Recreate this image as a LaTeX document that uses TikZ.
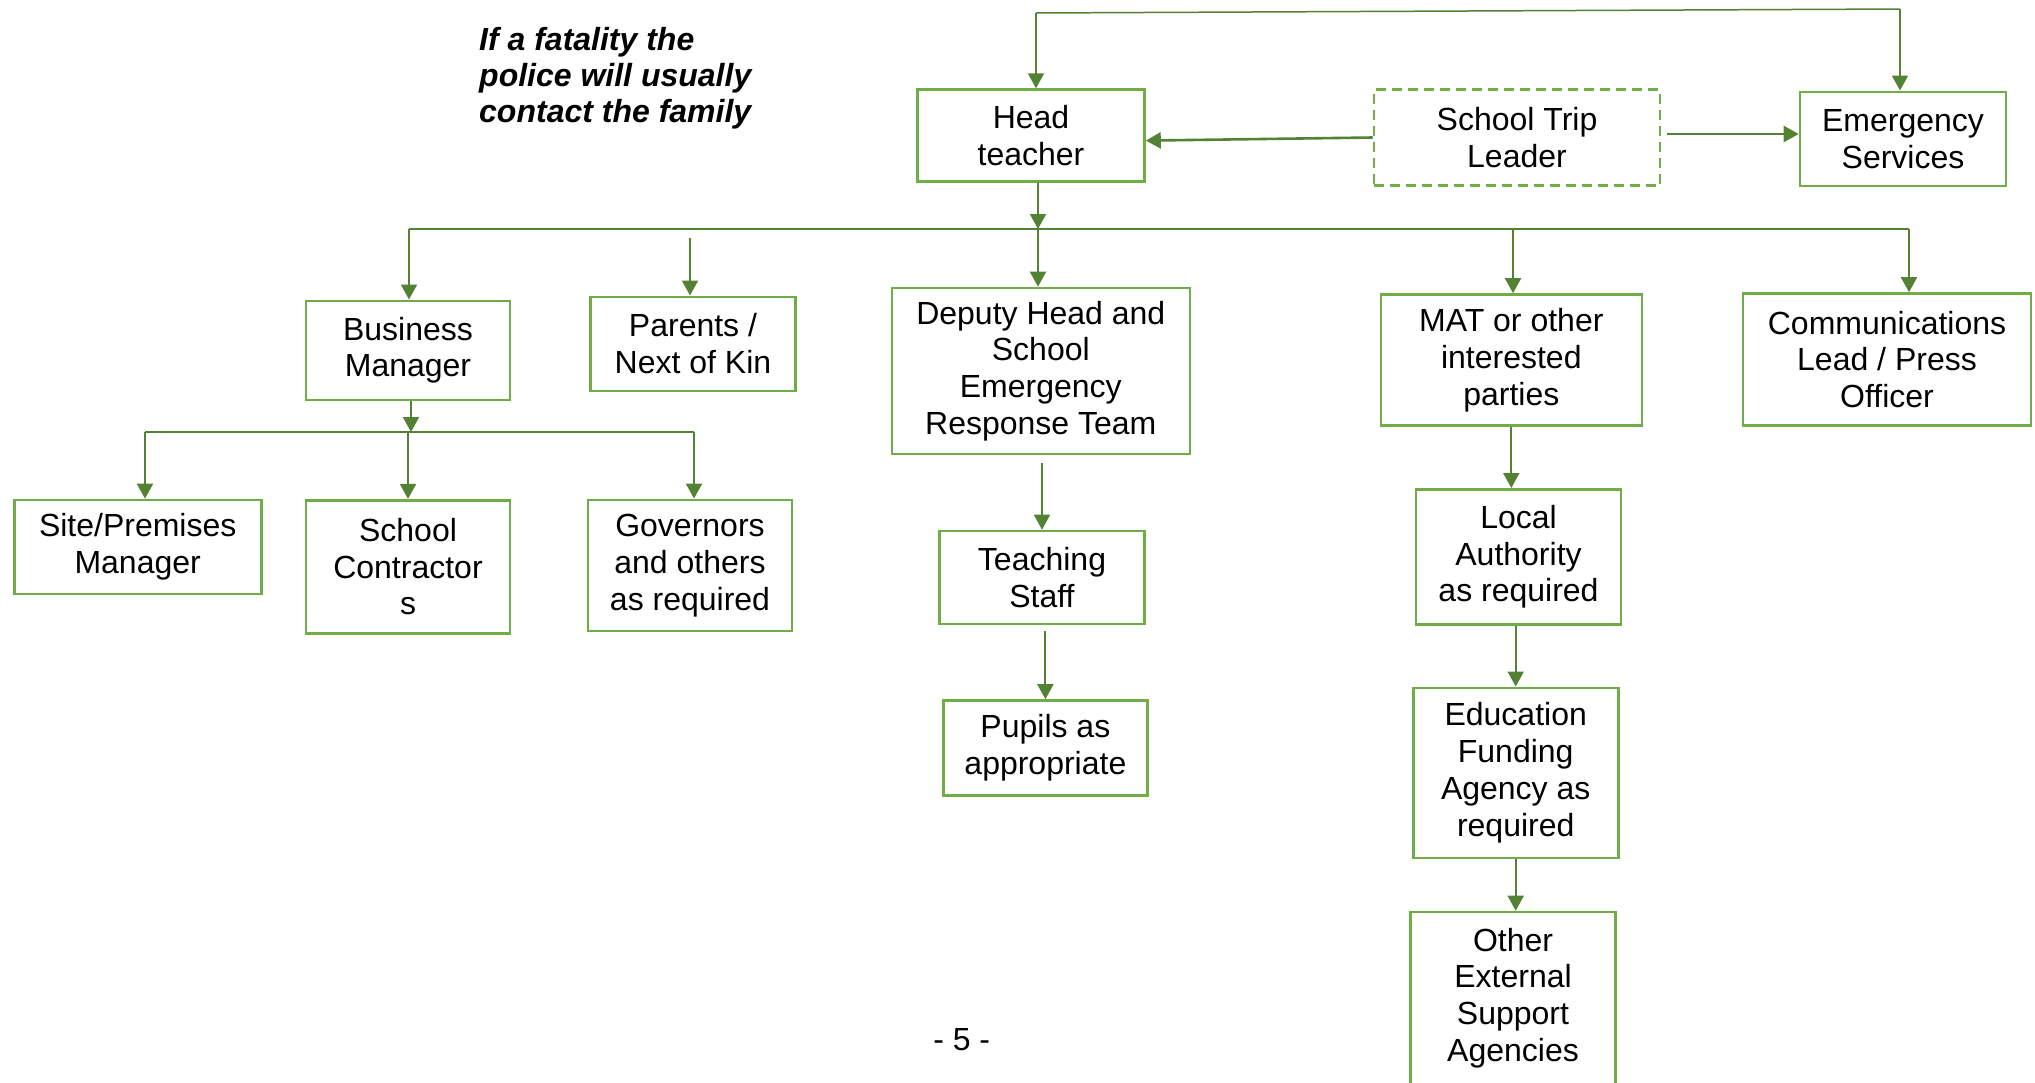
\documentclass[tikz,border=0pt]{standalone}
\usepackage{fontspec}
\setmainfont{Liberation Sans}
\usepackage{tikz, xcolor}
\usetikzlibrary{arrows.meta}

\definecolor{boxgreen}{HTML}{70AD47}
\definecolor{linegreen}{HTML}{548235}

\tikzset{
    box/.style={draw=boxgreen, line width=2.6pt, align=center, inner sep=0pt, font=\fontsize{32}{36.8}\selectfont},
    tripbox/.style={box, dash pattern=on 10pt off 6pt},
    link/.style={draw=linegreen, line width=2pt, -{Triangle[width=16pt, length=15pt]}},
    busline/.style={draw=linegreen, line width=1.5pt},
    note/.style={anchor=north west, align=left, inner sep=0pt, font=\fontsize{32}{35.7}\selectfont\bfseries\itshape},
}

\begin{document}
\begin{tikzpicture}[x=1pt, y=-1pt]
    \path [use as bounding box] (0, 0) rectangle (2035, 1082);
    \clip (0, 0) rectangle (2035, 1082);

    \node [note] (fatal) at (479, 27.5) {If a fatality the\\police will usually\\contact the family};

    \node [box, minimum width=227pt, minimum height=92pt] (head) at (1031, 135.6) {Head\\teacher};
    \node [tripbox, minimum width=286pt, minimum height=96pt] (trip) at (1517, 137.5) {School Trip\\Leader};
    \node [box, minimum width=206pt, minimum height=94pt] (emerg) at (1903, 138.8) {Emergency\\Services};

    \node [box, minimum width=204pt, minimum height=99pt] (bizman) at (408, 350.3) {Business\\Manager};
    \node [box, minimum width=205pt, minimum height=94pt] (parents) at (693, 343.8) {Parents /\\Next of Kin};
    \node [box, minimum width=298pt, minimum height=166pt] (deputy) at (1040.8, 371) {Deputy Head and\\School\\Emergency\\Response Team};
    \node [box, minimum width=261pt, minimum height=131pt] (mat) at (1511.3, 360) {MAT or other\\interested\\parties};
    \node [box, minimum width=288pt, minimum height=132pt] (comms) at (1887, 359.5) {Communications\\Lead / Press\\Officer};

    \node [box, minimum width=247pt, minimum height=94pt] (site) at (137.7, 547) {Site/Premises\\Manager};
    \node [box, minimum width=204pt, minimum height=133pt] (contractors) at (408, 566.7) {School\\Contractor\\s};
    \node [box, minimum width=204pt, minimum height=131pt] (governors) at (690, 565.4) {Governors\\and others\\as required};

    \node [box, minimum width=205pt, minimum height=93pt] (teaching) at (1042, 577.5) {Teaching\\Staff};
    \node [box, minimum width=204pt, minimum height=95pt] (pupils) at (1045.4, 748) {Pupils as\\appropriate};

    \node [box, minimum width=205pt, minimum height=135pt] (la) at (1518.5, 556.8) {Local\\Authority\\as required};
    \node [box, minimum width=205pt, minimum height=170pt] (efa) at (1515.7, 772.8) {Education\\Funding\\Agency as\\required};
    \node [box, minimum width=205pt, minimum height=172pt] (other) at (1513, 998) {Other\\External\\Support\\Agencies};

    \node [font=\fontsize{32}{36.8}\selectfont, inner sep=0pt] (pagenum) at (961.7, 1039.5) {- 5 -};

    \coordinate (topleft) at (1036, 13);
    \coordinate (topright) at (1900, 9);
    \draw [busline] (topleft) to (topright);
    \draw [link] (topleft) to (topleft |- head.north);
    \draw [link] (topright) to (topright |- emerg.north);

    \draw [link, line width=2.6pt] (trip.west) to ([yshift=-5pt]head.east);
    \draw [link, line width=2.4pt, shorten <=6pt] ([yshift=3.5pt]trip.east) to ([yshift=4.8pt]emerg.west);

    \coordinate (hub) at (1038, 229);
    \coordinate (busleft) at (409, 229);
    \coordinate (busright) at (1909, 229);
    \coordinate (kinstart) at (690, 238);
    \coordinate (matjoin) at (1513, 229);
    \draw [link] (hub |- head.south) to (hub);
    \draw [busline] (busleft) to (busright);
    \draw [link] (busleft) to (busleft |- bizman.north);
    \draw [link] (kinstart) to (kinstart |- parents.north);
    \draw [link] (hub) to (hub |- deputy.north);
    \draw [link] (matjoin) to (matjoin |- mat.north);
    \draw [link] (busright) to (busright |- comms.north);

    \coordinate (subhub) at (411, 432);
    \coordinate (subleft) at (145, 432);
    \coordinate (subright) at (694, 432);
    \draw [link] (subhub |- bizman.south) to (subhub);
    \draw [busline] (subleft) to (subright);
    \draw [link] (subleft) to (subleft |- site.north);
    \draw [link] (subhub -| contractors.north) to (contractors.north);
    \draw [link] (subright) to (subright |- governors.north);

    \draw [link, shorten <=8pt] (deputy.south -| teaching.north) to (teaching.north);
    \draw [link, shorten <=6pt] (teaching.south -| pupils.north) to (pupils.north);

    \draw [link] (mat.south) to (mat.south |- la.north);
    \draw [link] (la.south -| efa.north) to (efa.north);
    \draw [link] (efa.south) to (efa.south |- other.north);
\end{tikzpicture}
\end{document}
